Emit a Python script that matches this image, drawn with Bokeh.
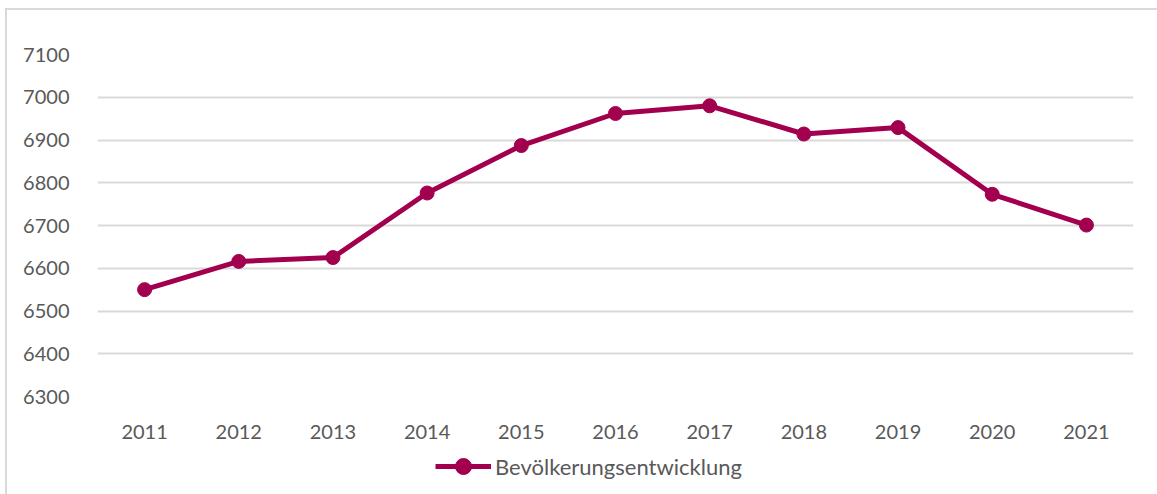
from bokeh.plotting import figure
from bokeh.models import Legend, LegendItem, FixedTicker
from bokeh.layouts import column
from bokeh.embed import file_html
from bokeh.resources import INLINE

years = ["2011", "2012", "2013", "2014", "2015", "2016", "2017", "2018", "2019", "2020", "2021"]
population = [6550, 6616, 6625, 6776, 6887, 6962, 6980, 6914, 6929, 6773, 6701]
y_ticks = [6300, 6400, 6500, 6600, 6700, 6800, 6900, 7000, 7100]
series_name = "Bevölkerungsentwicklung"

COLOR = "#A2004F"
TEXT = "#595959"
FONT = "Lato"

p = figure(
    x_range=years, y_range=(6300, 7100),
    width=1150, height=435,
    output_backend="svg", toolbar_location=None,
    min_border_left=90, min_border_right=24, min_border_top=44, min_border_bottom=49,
)
p.outline_line_color = None
p.x_range.range_padding = 0

p.line(years, population, line_color=COLOR, line_width=5, line_join="round")
p.scatter(years, population, size=14, fill_color=COLOR, line_color=COLOR)

p.xgrid.grid_line_color = None
p.ygrid.grid_line_color = "#D9D9D9"
p.ygrid.grid_line_width = 2
p.yaxis.ticker = FixedTicker(ticks=y_ticks)

for ax in (p.xaxis[0], p.yaxis[0]):
    ax.axis_line_color = None
    ax.major_tick_line_color = None
    ax.minor_tick_line_color = None
    ax.major_label_text_color = TEXT
    ax.major_label_text_font = FONT
    ax.major_label_text_font_size = "20px"
p.yaxis.major_label_standoff = 22
p.xaxis.major_label_standoff = 22

# legend strip below the chart (its series renderers sit outside its visible y range)
lg = figure(
    width=1150, height=49, x_range=years, y_range=(0, 1),
    output_backend="svg", toolbar_location=None,
    x_axis_type=None, y_axis_type=None,
    min_border_left=0, min_border_right=0, min_border_top=0, min_border_bottom=0,
)
lg.outline_line_color = None
lg.grid.visible = False
l_line = lg.line(years, population, line_color=COLOR, line_width=5)
l_pts = lg.scatter(years, population, size=14, fill_color=COLOR, line_color=COLOR)

legend = Legend(
    items=[LegendItem(label=series_name, renderers=[l_line, l_pts])],
    location=(338, 8), orientation="horizontal",
    label_text_font=FONT, label_text_font_size="22px", label_text_color=TEXT,
    glyph_width=56, glyph_height=40, label_standoff=4,
    padding=0, margin=0,
    border_line_color=None, background_fill_alpha=0,
)
lg.add_layout(legend)

layout = column(
    p, lg, spacing=0,
    styles={"margin-left": "5px", "margin-top": "8px",
            "border-left": "2px solid #D9D9D9", "border-top": "2px solid #D9D9D9"},
)

open("out.html", "w").write(file_html(layout, INLINE))
